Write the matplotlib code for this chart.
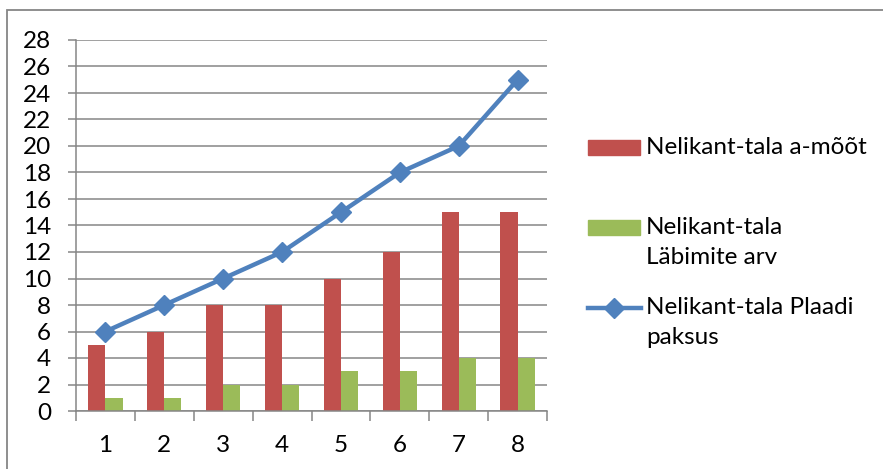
import numpy as np
import matplotlib.pyplot as plt
from matplotlib.patches import Rectangle
from matplotlib.lines import Line2D

plt.rcParams['font.family'] = ['Lato', 'DejaVu Sans']

# data
categories = [1, 2, 3, 4, 5, 6, 7, 8]
a_moot = [5, 6, 8, 8, 10, 12, 15, 15]
labimite_arv = [1, 1, 2, 2, 3, 3, 4, 4]
plaadi_paksus = [6, 8, 10, 12, 15, 18, 20, 25]
series_names = ["Nelikant-tala a-mõõt", "Nelikant-tala\nLäbimite arv", "Nelikant-tala Plaadi\npaksus"]

red = "#C0504D"
green = "#9BBB59"
blue = "#4F81BD"
grey = "#868686"

W, H = 883, 469
fig = plt.figure(figsize=(W / 100, H / 100), dpi=100)

# plot area in pixels
left, right, bottom, top = 76, 547, 411, 40
ax = fig.add_axes([left / W, 1 - bottom / H, (right - left) / W, (bottom - top) / H])

x = np.array(categories)
bw = 0.29
ax.bar(x - bw / 2, a_moot, width=bw, color=red, zorder=2)
ax.bar(x + bw / 2, labimite_arv, width=bw, color=green, zorder=2)
ax.plot(x, plaadi_paksus, color=blue, lw=3.2, marker='D', ms=10.5, mec=blue, zorder=3)

ax.set_xlim(0.5, 8.5)
ax.set_ylim(0, 28)
ax.set_yticks(range(0, 29, 2))
ax.yaxis.grid(True, color=grey, lw=1.1, zorder=0)
ax.set_axisbelow(True)

fs = 17.5
ax.set_xticks(categories)
ax.set_xticks(np.arange(0.5, 9, 1), minor=True)
ax.tick_params(axis='x', which='major', length=0, pad=17, labelsize=fs)
ax.tick_params(axis='x', which='minor', length=7, width=1.1, color=grey, direction='out')
ax.tick_params(axis='y', length=6, width=1.1, color=grey, pad=12, labelsize=fs)

for s in ['top', 'right']:
    ax.spines[s].set_visible(False)
for s in ['left', 'bottom']:
    ax.spines[s].set_color(grey)
    ax.spines[s].set_linewidth(1.1)

# legend, drawn in figure pixels
def px(xp, yp):
    return xp / W, 1 - yp / H

fig.patches.append(Rectangle(px(588, 155), 52 / W, 15 / H, transform=fig.transFigure,
                             color=red, figure=fig))
fig.text(*px(646, 147), series_names[0], fontsize=fs, va='center', ha='left')

fig.patches.append(Rectangle(px(588, 235), 52 / W, 15 / H, transform=fig.transFigure,
                             color=green, figure=fig))
fig.text(*px(646, 227), series_names[1].split("\n")[0], fontsize=fs, va='center', ha='left')
fig.text(*px(646, 258), series_names[1].split("\n")[1], fontsize=fs, va='center', ha='left')

fig.lines.append(Line2D([588 / W, 641 / W], [1 - 308 / H] * 2, transform=fig.transFigure,
                        color=blue, lw=3.2, figure=fig))
fig.lines.append(Line2D([614 / W], [1 - 308 / H], transform=fig.transFigure, color=blue,
                        marker='D', ms=10.5, figure=fig))
fig.text(*px(646, 308), series_names[2].split("\n")[0], fontsize=fs, va='center', ha='left')
fig.text(*px(646, 338), series_names[2].split("\n")[1], fontsize=fs, va='center', ha='left')

# chart border (cut off at right and bottom)
fig.patches.append(Rectangle(px(7, 500), 1.0, (500 - 10) / H, transform=fig.transFigure,
                             fill=False, edgecolor=grey, lw=1.3, figure=fig))

fig.savefig("out.png", dpi=100)
